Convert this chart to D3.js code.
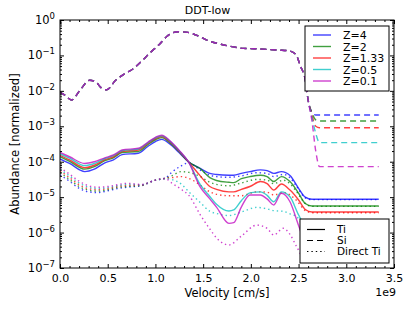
<!DOCTYPE html>
<html>
<head>
<meta charset="utf-8">
<script src="https://cdn.jsdelivr.net/npm/d3@7"></script>
<style>
body { margin: 0; background: #fff; }
text { font-family: "DejaVu Sans", sans-serif; fill: #000; }
</style>
</head>
<body>
<div id="container"></div>
<script>
// labels and colours of the five metallicities
const zLabels = ["Z=4", "Z=2", "Z=1.33", "Z=0.5", "Z=0.1"];
const zColors = ["#0000ff", "#008000", "#ff0000", "#00bfbf", "#bf00bf"];
const styleLabels = ["Ti", "Si", "Direct Ti"];

// velocities in units of 1e9 cm/s, abundances stored as log10 values
const siVelocity = [0.0, 0.05, 0.12, 0.21, 0.31, 0.38, 0.43, 0.49, 0.58, 0.66, 0.77, 0.86, 0.95, 1.04, 1.13, 1.24, 1.34,
    1.45, 1.56, 1.68, 1.80, 1.92, 2.04, 2.17, 2.29, 2.40, 2.47, 2.52, 2.57, 2.60, 2.64, 2.68, 2.72, 3.34];
const siShared = [-2.04, -2.12, -2.26, -1.98, -1.70, -1.76, -1.91, -1.97, -1.71, -1.55, -1.37, -1.15, -0.91, -0.69, -0.44,
    -0.33, -0.35, -0.45, -0.59, -0.68, -0.75, -0.80, -0.81, -0.83, -0.85, -0.87, -0.97, -1.30, -1.69];
const siZ4 = siShared.concat([-2.26, -2.60, -2.68, -2.68, -2.68]);
const siZ2 = siShared.concat([-2.26, -2.62, -2.82, -2.85, -2.85]);
const siZ133 = siShared.concat([-2.26, -2.68, -3.00, -3.04, -3.04]);
const siZ05 = siShared.concat([-2.26, -2.75, -3.20, -3.46, -3.46]);
const siZ01 = siShared.concat([-2.26, -2.85, -3.70, -4.14, -4.14]);

const tiVelocity = [0, 0.1, 0.26, 0.36, 0.47, 0.56, 0.65, 0.82, 0.92, 1.0, 1.066, 1.15, 1.25, 1.345, 1.47, 1.57, 1.64,
    1.77, 1.82, 1.9, 1.99, 2.1, 2.17, 2.24, 2.32, 2.41, 2.5, 2.57, 2.64, 3.34];
const tiZ4 = [-3.92, -4.05, -4.28, -4.21, -4.03, -3.95, -3.80, -3.76, -3.57, -3.43, -3.37, -3.50, -3.75, -4.00, -4.19,
    -4.33, -4.36, -4.38, -4.38, -4.33, -4.28, -4.23, -4.25, -4.33, -4.28, -4.39, -4.75, -5.00, -5.06, -5.06];
const tiZ2 = [-3.86, -3.99, -4.21, -4.14, -3.97, -3.89, -3.74, -3.71, -3.52, -3.38, -3.32, -3.46, -3.72, -4.00, -4.20,
    -4.45, -4.53, -4.58, -4.59, -4.48, -4.42, -4.38, -4.42, -4.56, -4.42, -4.56, -4.89, -5.18, -5.25, -5.25];
const tiZ133 = [-3.82, -3.95, -4.17, -4.10, -3.94, -3.86, -3.71, -3.67, -3.49, -3.35, -3.29, -3.44, -3.71, -4.00, -4.40,
    -4.70, -4.78, -4.85, -4.85, -4.78, -4.70, -4.56, -4.62, -4.80, -4.63, -4.80, -5.08, -5.35, -5.42, -5.42];
const tiZ05 = [-3.78, -3.90, -4.11, -4.05, -3.91, -3.83, -3.69, -3.64, -3.47, -3.33, -3.27, -3.42, -3.70, -4.00, -4.65,
    -4.98, -5.20, -5.39, -5.36, -5.10, -4.88, -4.85, -4.95, -5.13, -4.85, -4.99, -5.50, -5.80, -5.85, -5.85];
const tiZ01 = [-3.74, -3.86, -4.05, -4.00, -3.89, -3.81, -3.67, -3.62, -3.45, -3.31, -3.25, -3.40, -3.68, -4.00, -4.72,
    -5.05, -5.28, -5.74, -5.72, -5.28, -4.94, -4.94, -5.05, -5.22, -4.89, -5.13, -5.80, -6.30, -6.50, -6.50];

const directVelocity = [0, 0.1, 0.2, 0.3, 0.4, 0.5, 0.6, 0.7, 0.85, 1.0, 1.1, 1.17, 1.27, 1.35, 1.47, 1.57, 1.64, 1.77,
    1.9, 2.06, 2.17, 2.24, 2.34, 2.41, 2.48, 2.57, 2.64, 3.34];
const directZ4 = [-4.37, -4.55, -4.75, -4.85, -4.87, -4.82, -4.76, -4.72, -4.68, -4.52, -4.47, -4.30, -4.12, -4.03, -4.24,
    -4.38, -4.42, -4.44, -4.40, -4.31, -4.33, -4.42, -4.36, -4.45, -4.70, -5.02, -5.07, -5.07];
const directZ2 = [-4.31, -4.50, -4.70, -4.80, -4.83, -4.79, -4.73, -4.70, -4.67, -4.52, -4.47, -4.40, -4.28, -4.30, -4.42,
    -4.58, -4.64, -4.68, -4.60, -4.50, -4.52, -4.62, -4.52, -4.62, -4.85, -5.18, -5.26, -5.26];
const directZ133 = [-4.26, -4.45, -4.65, -4.76, -4.79, -4.76, -4.70, -4.67, -4.66, -4.52, -4.47, -4.45, -4.42, -4.47, -4.66,
    -4.85, -4.92, -4.96, -4.96, -4.85, -4.86, -4.94, -4.87, -4.94, -5.10, -5.38, -5.44, -5.44];
const directZ05 = [-4.22, -4.40, -4.60, -4.72, -4.76, -4.73, -4.68, -4.64, -4.65, -4.52, -4.47, -4.50, -4.63, -4.85, -5.15,
    -5.40, -5.46, -5.52, -5.42, -5.29, -5.33, -5.38, -5.40, -5.47, -5.55, -5.85, -5.90, -5.90];
const directZ01 = [-4.17, -4.35, -4.55, -4.68, -4.72, -4.70, -4.65, -4.61, -4.64, -4.52, -4.47, -4.60, -4.78, -4.95, -5.50,
    -5.90, -6.15, -6.35, -6.10, -5.79, -5.88, -6.07, -5.88, -6.05, -6.40, -6.75, -6.75, -6.75];

const xTicks = [0, 0.5, 1.0, 1.5, 2.0, 2.5, 3.0, 3.5];
const yExponents = [-7, -6, -5, -4, -3, -2, -1, 0];

const width = 415;
const height = 312;
const plotLeft = 60, plotRight = 394, plotTop = 20, plotBottom = 268;

const x = d3.scaleLinear().domain([0, 3.5]).range([plotLeft, plotRight]);
const y = d3.scaleLog().domain([1e-7, 1]).range([plotBottom, plotTop]);

const svg = d3.select("#container")
    .append("svg")
    .attr("width", width)
    .attr("height", height);

svg.append("defs").append("clipPath")
    .attr("id", "plot-clip")
    .append("rect")
    .attr("x", plotLeft).attr("y", plotTop)
    .attr("width", plotRight - plotLeft).attr("height", plotBottom - plotTop);

const line = d3.line()
    .x(d => x(d[0]))
    .y(d => y(Math.pow(10, d[1])))
    .curve(d3.curveMonotoneX);

const plot = svg.append("g").attr("clip-path", "url(#plot-clip)");

const tiSeries = [tiZ4, tiZ2, tiZ133, tiZ05, tiZ01];
const siSeries = [siZ4, siZ2, siZ133, siZ05, siZ01];
const directSeries = [directZ4, directZ2, directZ133, directZ05, directZ01];
const dashes = { ti: null, si: "6,4", direct: "1.4,3" };

//drawing each family of curves, Z=4 first so Z=0.1 is on top
function drawFamily(velocity, series, dash) {
    series.forEach((values, i) => {
        plot.append("path")
            .datum(values.map((v, j) => [velocity[j], v]))
            .attr("d", line)
            .attr("fill", "none")
            .attr("stroke", zColors[i])
            .attr("stroke-opacity", 0.75)
            .attr("stroke-width", 1.4)
            .attr("stroke-dasharray", dash);
    });
}
drawFamily(directVelocity, directSeries, dashes.direct);
drawFamily(tiVelocity, tiSeries, dashes.ti);
drawFamily(siVelocity, siSeries, dashes.si);

//frame
svg.append("rect")
    .attr("x", plotLeft).attr("y", plotTop)
    .attr("width", plotRight - plotLeft).attr("height", plotBottom - plotTop)
    .attr("fill", "none").attr("stroke", "black").attr("stroke-width", 1);

//x ticks, inward on bottom and top
const xMinor = d3.range(0, 36).map(d => d / 10).filter(d => Math.round(d * 10) % 5 !== 0);
const xAxis = svg.append("g").attr("transform", `translate(0,${plotBottom})`)
    .call(d3.axisBottom(x).tickValues(xTicks).tickSize(-4).tickSizeOuter(0).tickPadding(6)
        .tickFormat(d3.format(".1f")));
svg.append("g").attr("transform", `translate(0,${plotBottom})`)
    .call(d3.axisBottom(x).tickValues(xMinor).tickSize(-2).tickSizeOuter(0).tickFormat(""));
svg.append("g").attr("transform", `translate(0,${plotTop})`)
    .call(d3.axisTop(x).tickValues(xTicks).tickSize(-4).tickSizeOuter(0).tickFormat(""));
svg.append("g").attr("transform", `translate(0,${plotTop})`)
    .call(d3.axisTop(x).tickValues(xMinor).tickSize(-2).tickSizeOuter(0).tickFormat(""));
xAxis.selectAll("text").attr("font-size", 11).attr("font-family", "DejaVu Sans");

//y ticks, log decades and minor ticks 2..9
const yMajor = yExponents.map(e => Math.pow(10, e));
const yMinor = [];
yExponents.slice(0, -1).forEach(e => {
    for (let k = 2; k < 10; k++) yMinor.push(k * Math.pow(10, e));
});
[[plotLeft, d3.axisLeft], [plotRight, d3.axisRight]].forEach(([pos, axis]) => {
    svg.append("g").attr("transform", `translate(${pos},0)`)
        .call(axis(y).tickValues(yMajor).tickSize(-4).tickSizeOuter(0).tickFormat(""));
    svg.append("g").attr("transform", `translate(${pos},0)`)
        .call(axis(y).tickValues(yMinor).tickSize(-2).tickSizeOuter(0).tickFormat(""));
});
svg.selectAll(".domain").remove();
svg.selectAll(".tick line").attr("stroke", "black");

yExponents.forEach(e => {
    const t = svg.append("text")
        .attr("x", plotLeft - 5)
        .attr("y", y(Math.pow(10, e)) + 4)
        .attr("text-anchor", "end")
        .attr("font-size", 11.5);
    t.append("tspan").text("10");
    t.append("tspan").attr("dy", -5).attr("font-size", 8.5).text(e === 0 ? "0" : "\u2212" + (-e));
});

//titles
svg.append("text").attr("x", 207.5).attr("y", 14).attr("text-anchor", "middle")
    .attr("font-size", 11).text("DDT-low");
svg.append("text").attr("x", (plotLeft + plotRight) / 2).attr("y", 297).attr("text-anchor", "middle")
    .attr("font-size", 11.5).text("Velocity [cm/s]");
svg.append("text").attr("transform", `translate(19,${(plotTop + plotBottom) / 2}) rotate(-90)`)
    .attr("text-anchor", "middle").attr("font-size", 11.5).text("Abundance [normalized]");
svg.append("text").attr("x", plotRight + 2).attr("y", 296).attr("text-anchor", "end")
    .attr("font-size", 11).text("1e9");

//legend for metallicity
const zLegend = svg.append("g");
zLegend.append("rect").attr("x", 305).attr("y", 26).attr("width", 84).attr("height", 65)
    .attr("fill", "white").attr("stroke", "black").attr("stroke-width", 1);
zLabels.forEach((label, i) => {
    const ry = 35 + i * 11.5;
    zLegend.append("line").attr("x1", 313).attr("x2", 331).attr("y1", ry).attr("y2", ry)
        .attr("stroke", zColors[i]).attr("stroke-opacity", 0.75).attr("stroke-width", 1.4);
    zLegend.append("text").attr("x", 343).attr("y", ry + 4).attr("font-size", 11).text(label);
});

//legend for line style
const sLegend = svg.append("g");
sLegend.append("rect").attr("x", 300).attr("y", 219).attr("width", 89).attr("height", 44)
    .attr("fill", "white").attr("stroke", "black").attr("stroke-width", 1);
[dashes.ti, dashes.si, dashes.direct].forEach((dash, i) => {
    const ry = 229.5 + i * 11;
    sLegend.append("line").attr("x1", 307).attr("x2", 325).attr("y1", ry).attr("y2", ry)
        .attr("stroke", "black").attr("stroke-width", 1.2).attr("stroke-dasharray", dash);
    sLegend.append("text").attr("x", 337).attr("y", ry + 3.5).attr("font-size", 10.5).text(styleLabels[i]);
});
</script>
</body>
</html>
